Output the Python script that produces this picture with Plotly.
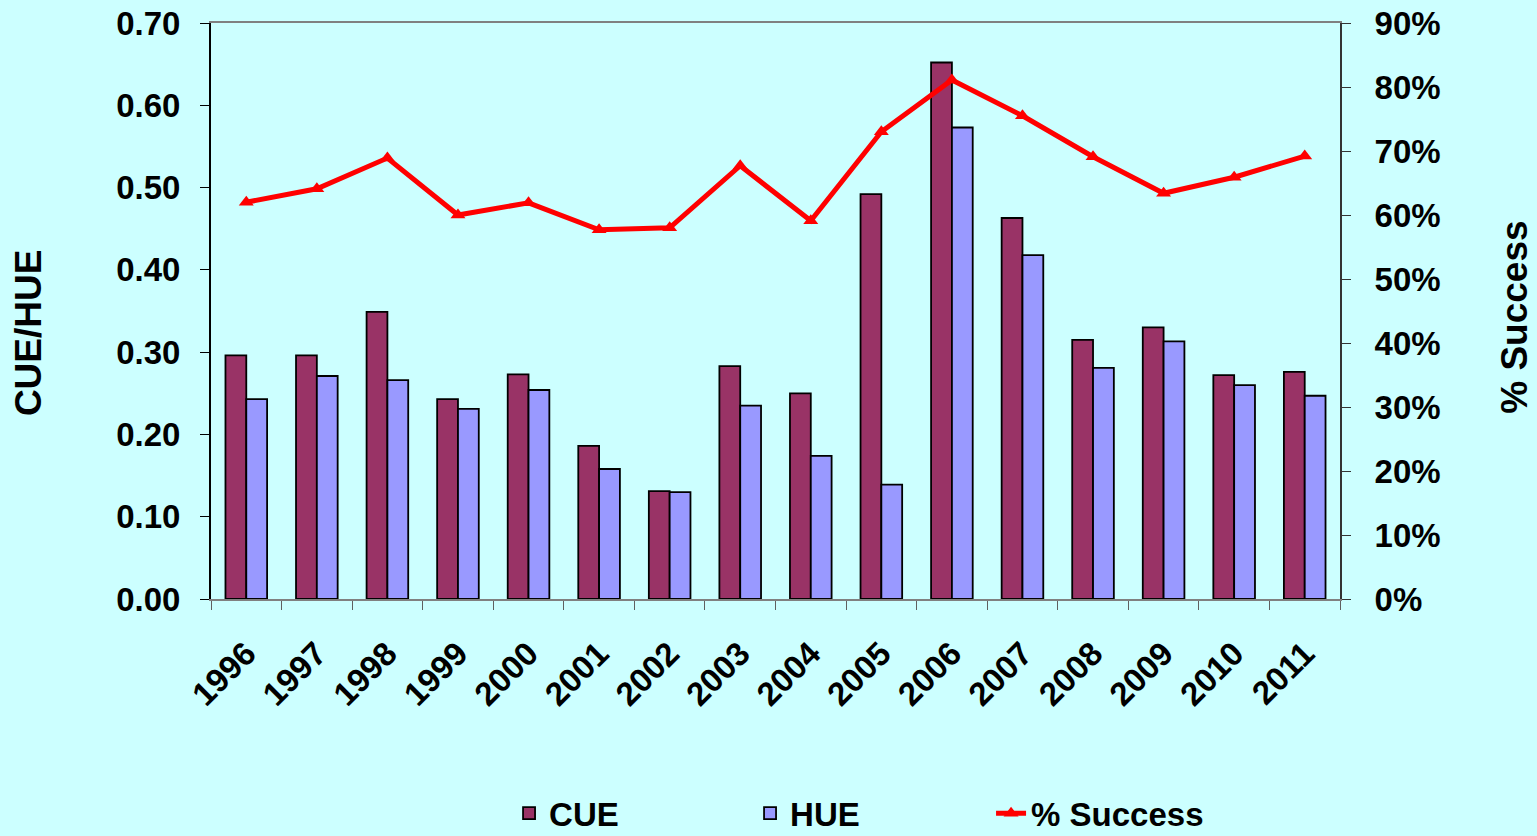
import plotly.graph_objects as go

years = ["1996", "1997", "1998", "1999", "2000", "2001", "2002", "2003",
         "2004", "2005", "2006", "2007", "2008", "2009", "2010", "2011"]
cue = [0.296, 0.296, 0.349, 0.243, 0.273, 0.186, 0.131, 0.283,
       0.250, 0.492, 0.652, 0.463, 0.315, 0.330, 0.272, 0.276]
hue = [0.243, 0.271, 0.266, 0.231, 0.254, 0.158, 0.130, 0.235,
       0.174, 0.139, 0.573, 0.418, 0.281, 0.313, 0.260, 0.247]
success = [0.620, 0.641, 0.689, 0.600, 0.619, 0.577, 0.580, 0.677,
           0.591, 0.730, 0.811, 0.755, 0.691, 0.634, 0.659, 0.692]

FONT = "Liberation Sans, Arial, sans-serif"
BG = "#CCFFFF"

fig = go.Figure()
fig.add_trace(go.Bar(x=years, y=cue, name="CUE",
                     marker=dict(color="#993366", line=dict(color="black", width=1.8))))
fig.add_trace(go.Bar(x=years, y=hue, name="HUE",
                     marker=dict(color="#9999FF", line=dict(color="black", width=1.8))))
fig.add_trace(go.Scatter(x=years, y=success, name="% Success", yaxis="y2",
                         mode="lines+markers",
                         line=dict(color="#FF0000", width=5),
                         marker=dict(symbol="triangle-up", size=13, color="#FF0000")))

tickfont = dict(family=FONT, size=33, color="black", weight="bold")

fig.update_layout(
    width=1537, height=836,
    paper_bgcolor=BG, plot_bgcolor=BG,
    margin=dict(l=211, r=197, t=23, b=237, autoexpand=False),
    barmode="group", bargap=0.41, bargroupgap=0,
    showlegend=True,
    legend=dict(orientation="h", x=0.264, xanchor="left", y=-0.372, yanchor="middle",
                font=dict(family=FONT, size=33, color="black", weight="bold"),
                entrywidth=196, entrywidthmode="pixels", bgcolor="rgba(0,0,0,0)",
                traceorder="normal"),
    xaxis=dict(type="category", range=[-0.5, len(years) - 0.5],
               tickangle=-45, tickfont=tickfont,
               showline=True, linecolor="#808080", linewidth=2, mirror=True,
               ticks="outside", tickson="boundaries", ticklen=9, tickcolor="#606060",
               showgrid=False, ticklabelstandoff=20),
    yaxis=dict(range=[0, 0.7], dtick=0.1, tickformat=".2f", tickfont=tickfont,
               showline=True, linecolor="black", linewidth=2,
               ticks="outside", ticklen=9, tickcolor="black",
               showgrid=False, zeroline=False, ticklabelstandoff=13),
    yaxis2=dict(range=[0, 0.9], dtick=0.1, tickformat=".0%", tickfont=tickfont,
                overlaying="y", side="right",
                showline=True, linecolor="#333333", linewidth=2,
                ticks="outside", ticklen=9, tickcolor="#333333",
                showgrid=False, zeroline=False, ticklabelstandoff=17),
    annotations=[
        dict(text="CUE/HUE", xref="paper", yref="paper", x=-0.161, y=0.462,
             textangle=-90, showarrow=False, xanchor="center", yanchor="middle",
             font=dict(family=FONT, size=37, color="black", weight="bold")),
        dict(text="% Success", xref="paper", yref="paper", x=1.155, y=0.49,
             textangle=-90, showarrow=False, xanchor="center", yanchor="middle",
             font=dict(family=FONT, size=37, color="black", weight="bold")),
    ],
)

fig.write_html("out.html", config={"displayModeBar": False},
               post_script="document.body.style.margin='0';document.body.style.overflow='hidden';")
